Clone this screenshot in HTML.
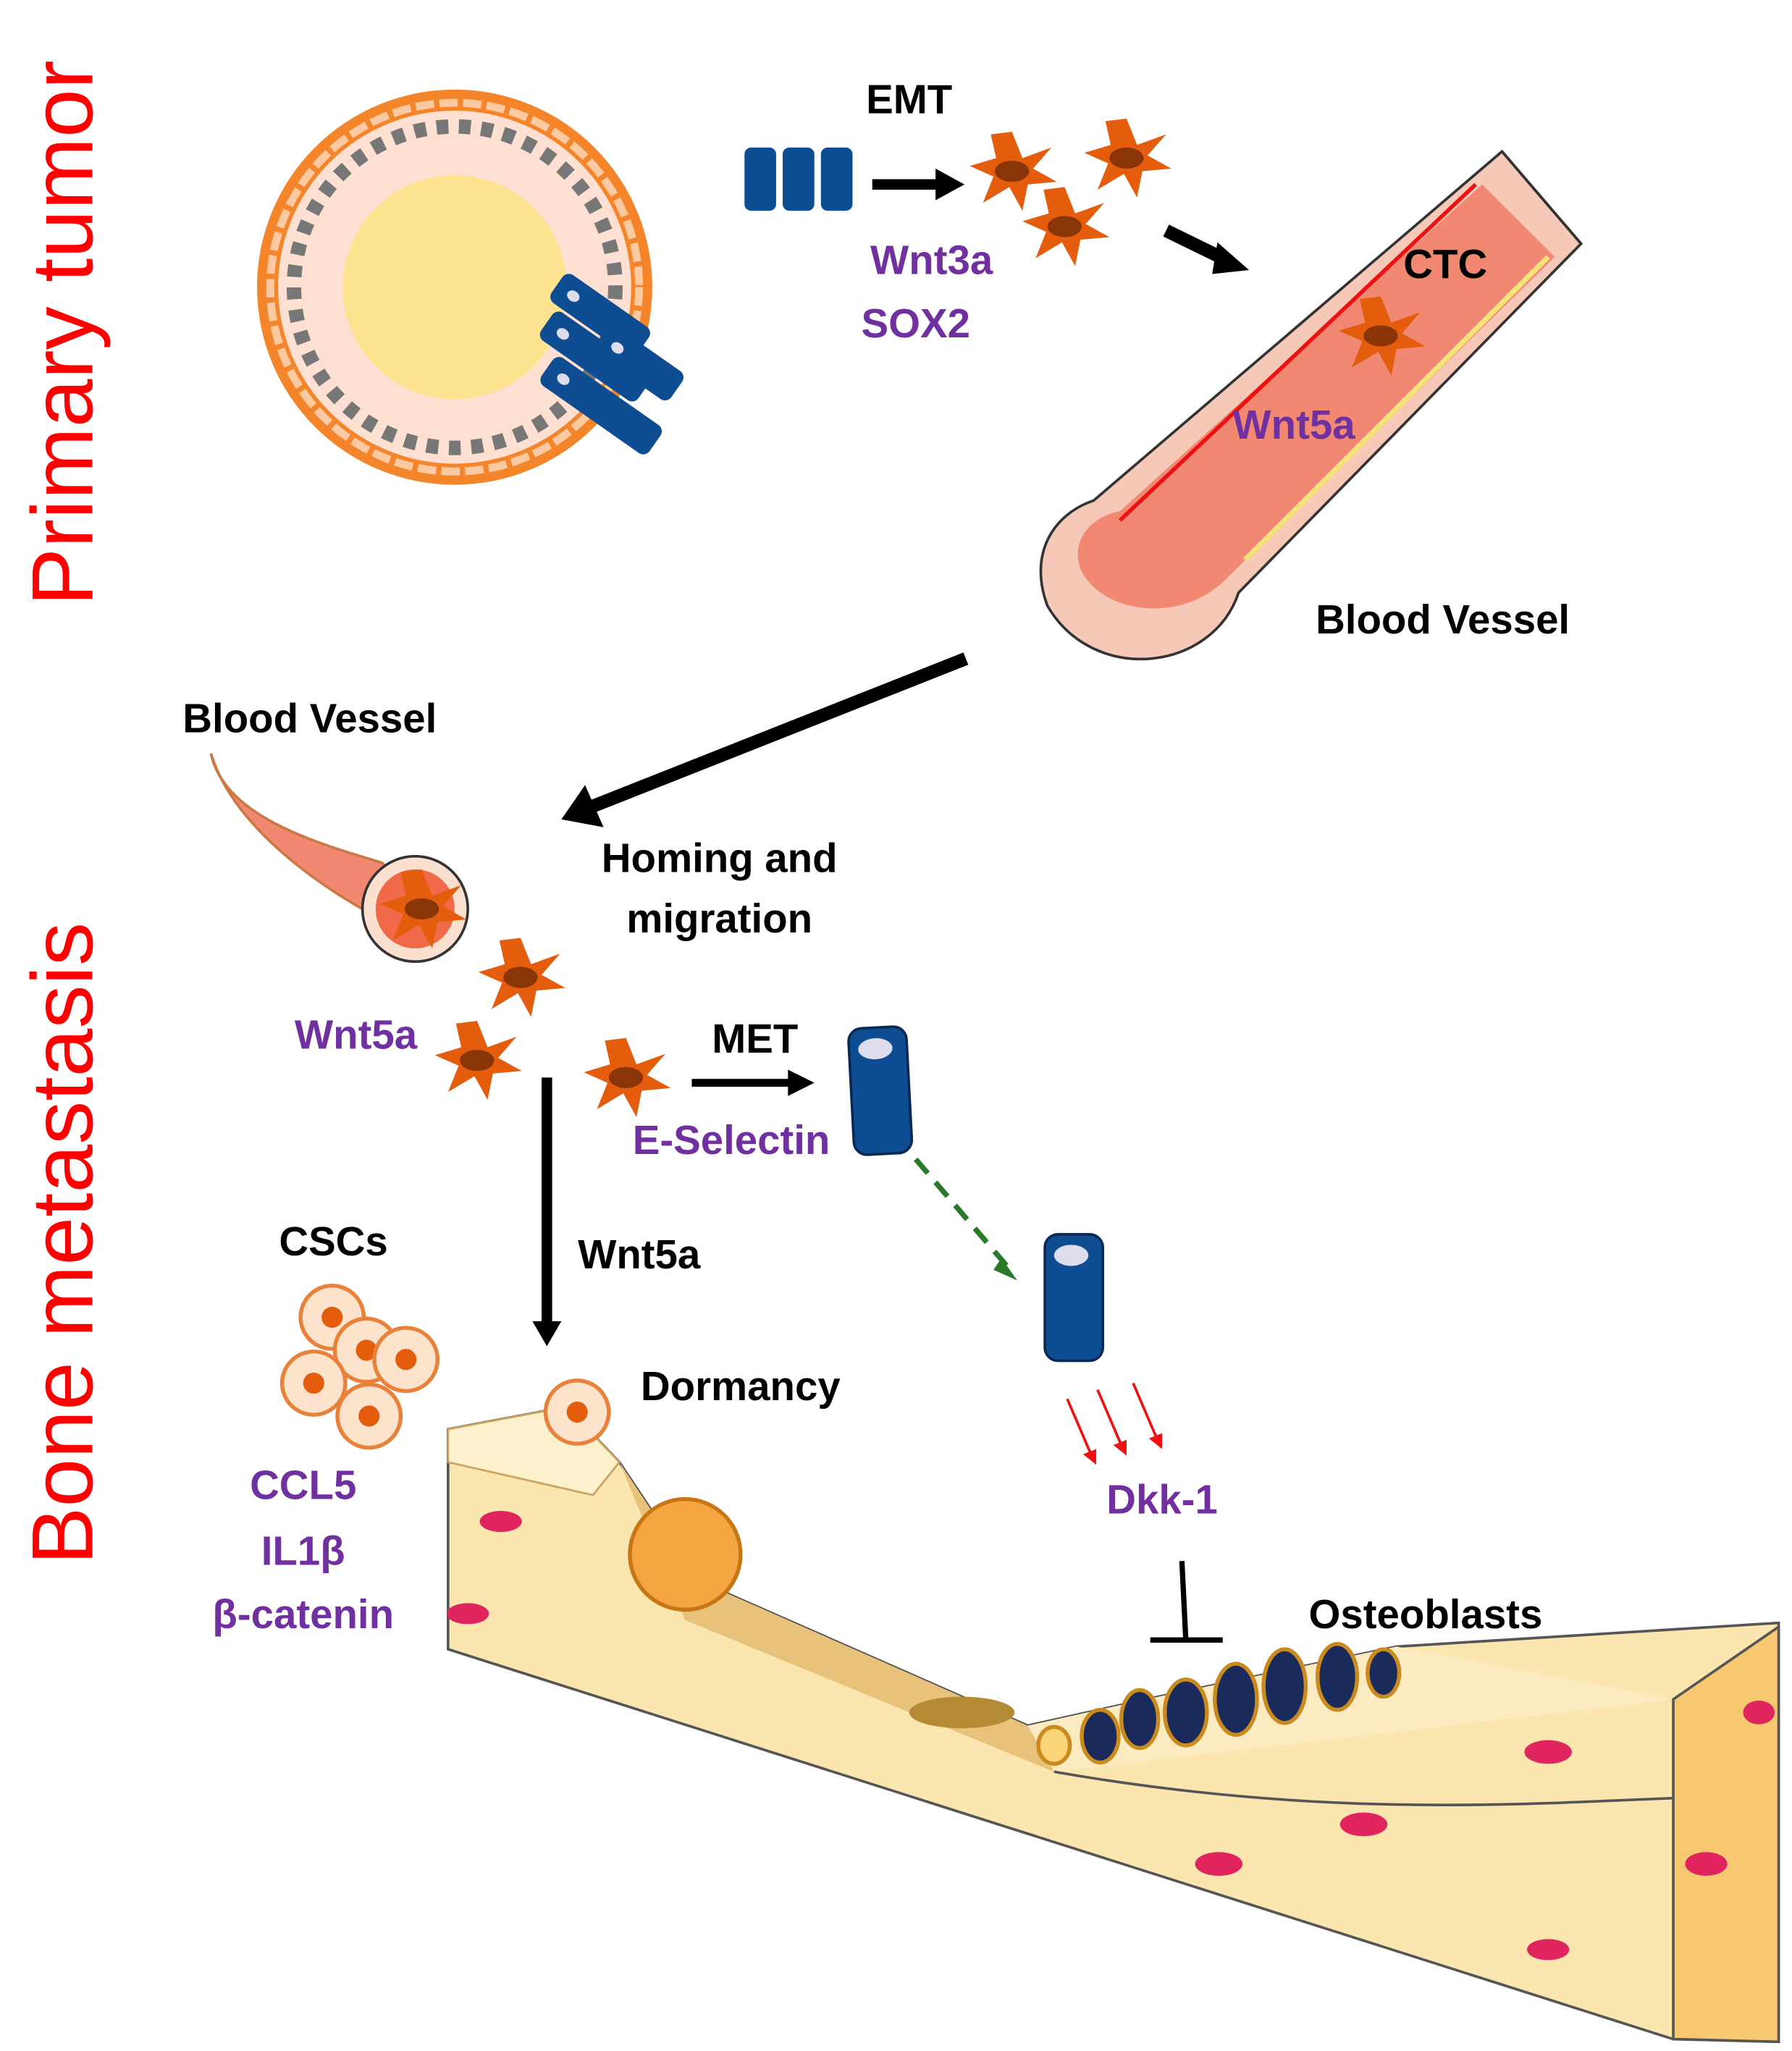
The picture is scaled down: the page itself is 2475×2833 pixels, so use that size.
<!DOCTYPE html>
<html><head><meta charset="utf-8"><style>
html,body{margin:0;padding:0;background:#fff;}
svg{display:block;}
text{font-family:"Liberation Sans",sans-serif;font-weight:bold;}
.k{fill:#000;font-size:31px;}
.p{fill:#7030a0;font-size:31px;}
</style></head><body>
<svg width="2475" height="2833" viewBox="0 0 1360 1557" xmlns="http://www.w3.org/2000/svg">
<defs>
<g id="star"><path d="M0,-30 L8,-10 L30,-18 L16,-2 L34,8 L12,10 L8,30 L-2,12 L-22,24 L-14,4 L-32,-4 L-12,-10 L-16,-28 Z" fill="#e35d0d"/><ellipse cx="0" cy="0" rx="13" ry="8" fill="#8a3508"/></g>
<g id="cyl"><rect x="-22" y="-48" width="44" height="96" rx="10" fill="#0e4d92" stroke="#062a55" stroke-width="2"/><ellipse cx="-2" cy="-32" rx="13" ry="8" fill="#dde"/></g>
<g id="cell"><circle r="24" fill="#fde3cc" stroke="#e8823b" stroke-width="3"/><circle r="8" fill="#e35d0d"/></g>
</defs>

<text transform="translate(70,460) rotate(-90)" style="font-size:66px;fill:#ff0000;font-weight:normal">Primary tumor</text>
<text transform="translate(70,1188) rotate(-90)" style="font-size:66px;fill:#ff0000;font-weight:normal">Bone metastasis</text>

<!-- primary tumor -->
<circle cx="345" cy="218" r="150" fill="#f5852a"/>
<circle cx="345" cy="218" r="140" fill="none" stroke="#fcc9a0" stroke-width="6" stroke-dasharray="14 4"/>
<circle cx="345" cy="218" r="134" fill="#fde0d2"/>
<circle cx="345" cy="218" r="122" fill="none" stroke="#777" stroke-width="11" stroke-dasharray="9 8"/>
<circle cx="345" cy="218" r="85" fill="#fde38f"/>
<g transform="translate(460,285) rotate(35)">
<rect x="-60" y="-20" width="90" height="26" rx="6" fill="#0e4d92"/>
<rect x="-40" y="8" width="100" height="26" rx="6" fill="#0e4d92"/>
<rect x="-70" y="-48" width="80" height="26" rx="6" fill="#0e4d92"/>
<rect x="-20" y="-35" width="70" height="26" rx="6" fill="#0e4d92"/>
<g fill="#dde"><ellipse cx="-55" cy="-35" rx="5" ry="4"/><ellipse cx="-45" cy="-7" rx="5" ry="4"/><ellipse cx="-25" cy="21" rx="5" ry="4"/><ellipse cx="-5" cy="-22" rx="5" ry="4"/></g>
</g>

<text class="k" x="690" y="86" text-anchor="middle">EMT</text>
<rect x="565" y="112" width="24" height="48" rx="5" fill="#0e4d92"/>
<rect x="594" y="112" width="24" height="48" rx="5" fill="#0e4d92"/>
<rect x="623" y="112" width="24" height="48" rx="5" fill="#0e4d92"/>
<line x1="662" y1="140" x2="712" y2="140" stroke="#000" stroke-width="8"/>
<polygon points="710,128 732,140 710,152" fill="#000"/>
<use href="#star" x="768" y="130"/><use href="#star" x="855" y="120"/><use href="#star" x="808" y="172"/>
<text class="p" x="707" y="208" text-anchor="middle">Wnt3a</text>
<text class="p" x="695" y="256" text-anchor="middle">SOX2</text>
<line x1="885" y1="175" x2="930" y2="197" stroke="#000" stroke-width="10"/>
<polygon points="924,184 948,205 920,208" fill="#000"/>

<!-- big blood vessel -->
<path d="M1140,115 L1200,185 L940,450 C920,510 830,520 795,460 C780,420 800,390 830,380 Z" fill="#f6c8b8" stroke="#333" stroke-width="2"/>
<path d="M1125,140 L1180,195 L930,440 C895,475 835,465 820,432 C812,408 830,392 850,388 Z" fill="#f08872"/>
<line x1="1120" y1="140" x2="850" y2="395" stroke="#e11" stroke-width="3"/>
<line x1="1175" y1="195" x2="945" y2="425" stroke="#f4e27a" stroke-width="4"/>
<path d="M1140,115 L1200,185" stroke="#333" stroke-width="2"/>
<use href="#star" x="1048" y="255"/>
<text class="k" x="1097" y="211" text-anchor="middle">CTC</text>
<text class="p" x="982" y="333" text-anchor="middle">Wnt5a</text>
<text class="k" x="1095" y="481" text-anchor="middle">Blood Vessel</text>

<line x1="733" y1="500" x2="450" y2="612" stroke="#000" stroke-width="10"/>
<polygon points="444,596 426,622 458,628" fill="#000"/>

<text class="k" x="235" y="556" text-anchor="middle">Blood Vessel</text>
<path d="M160,572 C170,620 240,640 290,655 L340,720 C280,700 180,640 160,572 Z" fill="#f08872" stroke="#c74" stroke-width="2"/>
<circle cx="315" cy="690" r="40" fill="#fbe0d0" stroke="#333" stroke-width="2"/>
<circle cx="315" cy="690" r="30" fill="#f06a4a"/>
<use href="#star" x="320" y="690"/>
<text class="k" x="546" y="662" text-anchor="middle">Homing and</text>
<text class="k" x="546" y="708" text-anchor="middle">migration</text>
<use href="#star" x="395" y="742"/><use href="#star" x="362" y="805"/><use href="#star" x="475" y="818"/>
<text class="p" x="270" y="796" text-anchor="middle">Wnt5a</text>

<text class="k" x="573" y="799" text-anchor="middle">MET</text>
<line x1="525" y1="822" x2="600" y2="822" stroke="#000" stroke-width="6"/>
<polygon points="598,812 618,822 598,832" fill="#000"/>
<text class="p" x="555" y="876" text-anchor="middle">E-Selectin</text>
<use href="#cyl" transform="translate(668,828) rotate(-3)"/>
<line x1="695" y1="880" x2="765" y2="962" stroke="#2a7a2a" stroke-width="4" stroke-dasharray="14 9"/>
<polygon points="760,955 772,972 754,964" fill="#2a7a2a"/>
<use href="#cyl" x="815" y="985"/>
<g stroke="#e11" stroke-width="2"><line x1="810" y1="1062" x2="828" y2="1104"/><line x1="833" y1="1055" x2="851" y2="1097"/><line x1="860" y1="1050" x2="878" y2="1092"/></g>
<g fill="#e11"><polygon points="822,1104 832,1112 832,1100"/><polygon points="845,1097 855,1105 855,1093"/><polygon points="872,1092 882,1100 882,1088"/></g>
<text class="p" x="882" y="1149" text-anchor="middle">Dkk-1</text>
<line x1="897" y1="1185" x2="900" y2="1245" stroke="#000" stroke-width="4"/>
<line x1="873" y1="1245" x2="928" y2="1245" stroke="#000" stroke-width="4"/>
<text class="k" x="1082" y="1236" text-anchor="middle">Osteoblasts</text>

<line x1="415" y1="818" x2="415" y2="1005" stroke="#000" stroke-width="8"/>
<polygon points="404,1003 415,1022 426,1003" fill="#000"/>
<text class="k" x="485" y="963" text-anchor="middle">Wnt5a</text>

<text class="k" x="253" y="953" text-anchor="middle">CSCs</text>
<use href="#cell" x="252" y="1000"/><use href="#cell" x="278" y="1025"/><use href="#cell" x="308" y="1032"/><use href="#cell" x="238" y="1050"/><use href="#cell" x="280" y="1075"/>
<text class="p" x="230" y="1138" text-anchor="middle">CCL5</text>
<text class="p" x="230" y="1188" text-anchor="middle">IL1β</text>
<text class="p" x="230" y="1236" text-anchor="middle">β-catenin</text>

<!-- bone -->
<path d="M340,1085 L430,1068 L470,1110 L530,1200 L780,1310 L870,1290 L1060,1250 L1350,1232 L1350,1550 L1270,1548 L340,1252 Z" fill="#fbe6b0" stroke="#555" stroke-width="2"/>
<path d="M340,1085 L430,1068 L470,1110 L450,1135 L340,1110 Z" fill="#fdf0cc" stroke="#c9a560" stroke-width="1.5"/>
<path d="M470,1110 L530,1200 L780,1310 L800,1345 L520,1230 Z" fill="#e8c27a"/>
<path d="M1270,1290 L1350,1235 L1350,1550 L1270,1548 Z" fill="#f7c870" stroke="#555" stroke-width="2"/>
<path d="M780,1310 L870,1290 L1060,1250 L1270,1290 L800,1345 Z" fill="#fcebc0"/>
<g fill="#1a2a5a" stroke="#c98a20" stroke-width="3">
<ellipse cx="800" cy="1325" rx="12" ry="14" fill="#fbd477"/>
<ellipse cx="835" cy="1318" rx="14" ry="20"/><ellipse cx="865" cy="1305" rx="14" ry="22"/><ellipse cx="900" cy="1300" rx="16" ry="25"/><ellipse cx="938" cy="1290" rx="16" ry="27"/><ellipse cx="975" cy="1280" rx="16" ry="28"/><ellipse cx="1015" cy="1273" rx="15" ry="25"/><ellipse cx="1050" cy="1270" rx="12" ry="18"/>
</g>
<circle cx="520" cy="1180" r="42" fill="#f5a642" stroke="#c87515" stroke-width="3"/>
<ellipse cx="730" cy="1300" rx="40" ry="12" fill="#b58a35"/>
<g fill="#e0245e"><ellipse cx="380" cy="1155" rx="16" ry="8"/><ellipse cx="355" cy="1225" rx="16" ry="8"/><ellipse cx="1175" cy="1330" rx="18" ry="9"/><ellipse cx="1035" cy="1385" rx="18" ry="9"/><ellipse cx="925" cy="1415" rx="18" ry="9"/><ellipse cx="1295" cy="1415" rx="16" ry="9"/><ellipse cx="1175" cy="1480" rx="16" ry="8"/><ellipse cx="1335" cy="1300" rx="12" ry="9"/></g>
<path d="M800,1345 C1000,1380 1150,1370 1270,1365" stroke="#555" stroke-width="2" fill="none"/>
<use href="#cell" x="438" y="1072"/>
<text class="k" x="562" y="1063" text-anchor="middle">Dormancy</text>
</svg>
</body></html>
